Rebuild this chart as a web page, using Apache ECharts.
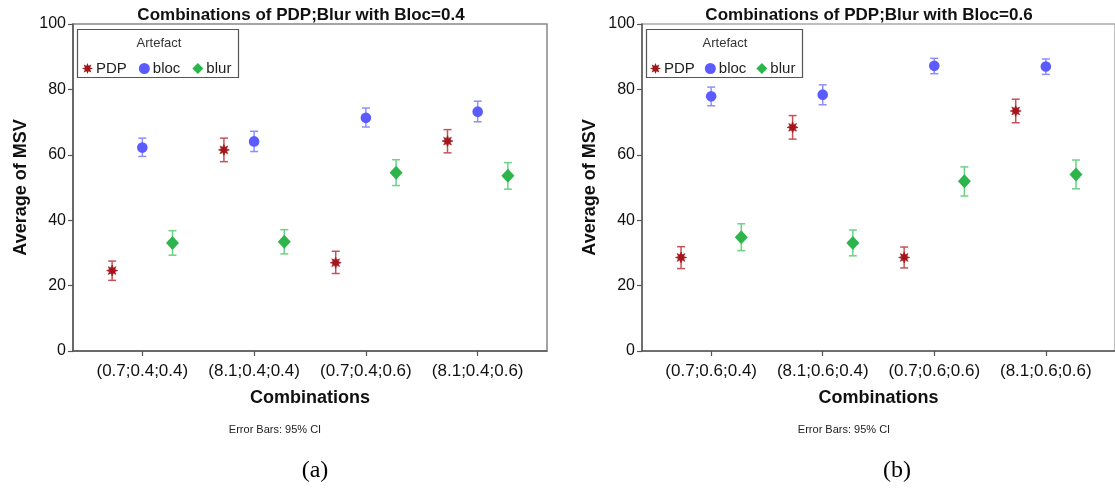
<!DOCTYPE html>
<html>
<head>
<meta charset="utf-8">
<script src="https://cdn.jsdelivr.net/npm/echarts@6.0.0/dist/echarts.min.js"></script>
<style>
html,body{margin:0;padding:0;background:#fff;}
#chart{width:1115px;height:493px;}
</style>
</head>
<body>
<div id="chart"></div>
<script>
// ---------- data ----------
const categoriesA = ['(0.7;0.4;0.4)', '(8.1;0.4;0.4)', '(0.7;0.4;0.6)', '(8.1;0.4;0.6)'];
const categoriesB = ['(0.7;0.6;0.4)', '(8.1;0.6;0.4)', '(0.7;0.6;0.6)', '(8.1;0.6;0.6)'];
const seriesNames = ['PDP', 'bloc', 'blur'];
const yTicks = [0, 20, 40, 60, 80, 100];

// chart (a): Bloc = 0.4
const pdpA_mean = [24.6, 61.5, 27.0, 64.2];
const pdpA_low  = [21.6, 57.9, 23.7, 60.6];
const pdpA_high = [27.5, 65.1, 30.5, 67.7];
const blocA_mean = [62.2, 64.1, 71.3, 73.2];
const blocA_low  = [59.5, 61.0, 68.5, 70.1];
const blocA_high = [65.1, 67.2, 74.3, 76.4];
const blurA_mean = [33.0, 33.4, 54.5, 53.6];
const blurA_low  = [29.3, 29.7, 50.6, 49.5];
const blurA_high = [36.8, 37.1, 58.5, 57.6];

// chart (b): Bloc = 0.6
const pdpB_mean = [28.6, 68.4, 28.6, 73.4];
const pdpB_low  = [25.2, 64.8, 25.4, 69.8];
const pdpB_high = [31.9, 72.0, 31.8, 77.0];
const blocB_mean = [77.9, 78.4, 87.2, 87.0];
const blocB_low  = [75.0, 75.3, 84.8, 84.6];
const blocB_high = [80.7, 81.4, 89.5, 89.3];
const blurB_mean = [34.8, 33.0, 51.9, 54.0];
const blurB_low  = [30.7, 29.1, 47.4, 49.6];
const blurB_high = [38.9, 37.0, 56.3, 58.4];

// ---------- styling ----------
const FONT = '"Liberation Sans", Arial, sans-serif';
const markerColors = { PDP: '#a3161c', bloc: '#5b5bff', blur: '#2db54b' };
const barColors    = { PDP: '#c4545a', bloc: '#8e8eff', blur: '#6dd185' };
const offsets      = { PDP: -0.27, bloc: 0, blur: 0.27 };
const shapes       = { PDP: 'star', bloc: 'circle', blur: 'diamond' };

function starPath(n, ro, ri) {
  let d = '';
  for (let i = 0; i < 2 * n; i++) {
    const r = i % 2 ? ri : ro;
    const a = Math.PI * i / n - Math.PI / 2;
    d += (i ? 'L' : 'M') + (r * Math.cos(a)).toFixed(3) + ' ' + (r * Math.sin(a)).toFixed(3);
  }
  return d + 'Z';
}
const STAR = starPath(8, 10, 5.2);

function makeData(mean, low, high, name) {
  return mean.map((m, i) => [i + 1 + offsets[name], m, low[i], high[i]]);
}

function renderItemFor(name) {
  return function (params, api) {
    const x = api.value(0);
    const pm = api.coord([x, api.value(1)]);
    const pl = api.coord([x, api.value(2)]);
    const ph = api.coord([x, api.value(3)]);
    const cap = 4;
    const ls = { stroke: barColors[name], lineWidth: 1.5 };
    const children = [
      { type: 'line', shape: { x1: pl[0], y1: pl[1], x2: ph[0], y2: ph[1] }, style: ls },
      { type: 'line', shape: { x1: pl[0] - cap, y1: pl[1], x2: pl[0] + cap, y2: pl[1] }, style: ls },
      { type: 'line', shape: { x1: ph[0] - cap, y1: ph[1], x2: ph[0] + cap, y2: ph[1] }, style: ls }
    ];
    const c = markerColors[name];
    if (shapes[name] === 'circle') {
      children.push({ type: 'circle', shape: { cx: pm[0], cy: pm[1], r: 5.3 }, style: { fill: c } });
    } else if (shapes[name] === 'diamond') {
      const w = 6.5, h = 7;
      children.push({ type: 'polygon', shape: { points: [[pm[0], pm[1] - h], [pm[0] + w, pm[1]], [pm[0], pm[1] + h], [pm[0] - w, pm[1]]] }, style: { fill: c } });
    } else {
      const s = 11;
      children.push({ type: 'path', shape: { pathData: STAR, x: pm[0] - s / 2, y: pm[1] - s / 2, width: s, height: s, layout: 'cover' }, style: { fill: c, stroke: c, lineWidth: 0.6 } });
    }
    return { type: 'group', children };
  };
}

function seriesFor(name, idx, mean, low, high) {
  return {
    type: 'custom',
    name: name,
    xAxisIndex: idx,
    yAxisIndex: idx,
    itemStyle: { color: markerColors[name] },
    renderItem: renderItemFor(name),
    encode: { x: 0, y: [1, 2, 3] },
    data: makeData(mean, low, high, name),
    z: 5
  };
}

function xAxisFor(idx, cats) {
  return {
    type: 'value', gridIndex: idx, min: 0.38, max: 4.62,
    axisLine: { show: true, onZero: false, lineStyle: { color: '#555', width: 1.5 } },
    axisTick: { show: true, customValues: [1, 2, 3, 4], length: 5, lineStyle: { color: '#555', width: 1.2 } },
    axisLabel: { customValues: [1, 2, 3, 4], formatter: v => cats[Math.round(v) - 1], fontSize: 17, color: '#111', margin: 12, fontFamily: FONT },
    splitLine: { show: false },
    name: 'Combinations', nameLocation: 'middle', nameGap: 38,
    nameTextStyle: { fontSize: 18, fontWeight: 'bold', color: '#111', fontFamily: FONT }
  };
}
function yAxisFor(idx) {
  return {
    type: 'value', gridIndex: idx, min: yTicks[0], max: yTicks[yTicks.length - 1], interval: 20,
    axisLine: { show: true, lineStyle: { color: '#555', width: 1.5 } },
    axisTick: { show: true, length: 5, lineStyle: { color: '#555', width: 1.2 } },
    axisLabel: { fontSize: 16, color: '#111', margin: 7, fontFamily: FONT },
    splitLine: { show: false },
    name: 'Average of MSV', nameLocation: 'middle', nameGap: 43,
    nameTextStyle: { fontSize: 18, fontWeight: 'bold', color: '#111', fontFamily: FONT }
  };
}

function legendFor(left, top, gap) {
  return {
    left: left, top: top, orient: 'horizontal', padding: 0, itemGap: gap,
    itemWidth: 11, itemHeight: 11,
    textStyle: { fontSize: 15, color: '#222', fontFamily: FONT, padding: [0, 0, 0, -2] },
    data: [
      { name: 'PDP', icon: 'path://' + STAR },
      { name: 'bloc', icon: 'circle' },
      { name: 'blur', icon: 'diamond' }
    ],
    selectedMode: false
  };
}

function txt(x, y, text, font, color) {
  return { type: 'text', x: x, y: y, z: 10, style: { text: text, font: font, fill: color || '#111', align: 'center', verticalAlign: 'middle' } };
}
function box(x, y, w, h) {
  return { type: 'rect', shape: { x: x, y: y, width: w, height: h }, style: { fill: '#fff', stroke: '#555', lineWidth: 1.2 }, z: 1 };
}

const chart = echarts.init(document.getElementById('chart'), null, { renderer: 'canvas' });
chart.setOption({
  backgroundColor: '#fff',
  animation: false,
  grid: [
    { left: 73, top: 24, width: 474, height: 327, show: true, borderColor: '#888', borderWidth: 1.5, backgroundColor: 'transparent' },
    { left: 642, top: 24, width: 473, height: 327, show: true, borderColor: '#aaa', borderWidth: 1.5, backgroundColor: 'transparent' }
  ],
  xAxis: [xAxisFor(0, categoriesA), xAxisFor(1, categoriesB)],
  yAxis: [yAxisFor(0), yAxisFor(1)],
  legend: [legendFor(82, 61, 12), legendFor(650, 61, 10)],
  graphic: [
    box(77.5, 29.5, 161, 48),
    box(646.5, 29.5, 156, 48),
    txt(301, 15, 'Combinations of PDP;Blur with Bloc=0.4', 'bold 17px ' + FONT),
    txt(869, 15, 'Combinations of PDP;Blur with Bloc=0.6', 'bold 17px ' + FONT),
    txt(159, 43, 'Artefact', '13px ' + FONT, '#333'),
    txt(725, 43, 'Artefact', '13px ' + FONT, '#333'),
    txt(275, 430, 'Error Bars: 95% CI', '11px ' + FONT, '#222'),
    txt(844, 430, 'Error Bars: 95% CI', '11px ' + FONT, '#222'),
    txt(315, 471, '(a)', '24px "Liberation Serif", "Times New Roman", serif', '#000'),
    txt(897, 471, '(b)', '24px "Liberation Serif", "Times New Roman", serif', '#000')
  ],
  series: [
    seriesFor('PDP', 0, pdpA_mean, pdpA_low, pdpA_high),
    seriesFor('bloc', 0, blocA_mean, blocA_low, blocA_high),
    seriesFor('blur', 0, blurA_mean, blurA_low, blurA_high),
    seriesFor('PDP', 1, pdpB_mean, pdpB_low, pdpB_high),
    seriesFor('bloc', 1, blocB_mean, blocB_low, blocB_high),
    seriesFor('blur', 1, blurB_mean, blurB_low, blurB_high)
  ]
});
</script>
</body>
</html>
